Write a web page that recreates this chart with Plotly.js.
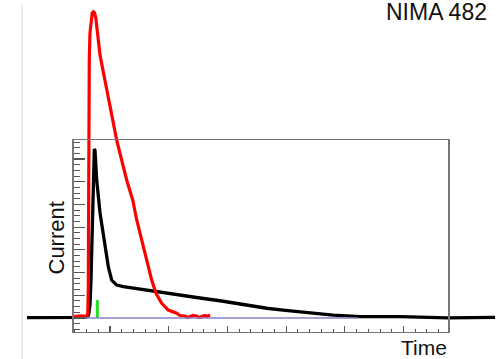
<!DOCTYPE html>
<html><head><meta charset="utf-8">
<script src="https://cdn.plot.ly/plotly-3.0.1.min.js"></script>
<style>html,body{margin:0;padding:0;background:#fff}#chart{width:498px;height:359px}</style>
</head><body><div id="chart"></div>
<script>
// Black current trace
const blackTime = [-14.14,-10.22,-6.13,-4.09,-3.66,-3.41,-3.24,-3.07,-2.90,-2.76,-2.67,-2.56,-2.39,-2.27,-1.70,-0.85,-0.29,0.29,1.14,2.27,4.26,7.38,9.37,13.07,15.62,18.74,20.95,23.85,26.70,29.47,32.37,35.21,37.99,42.59,49.40,57.58,65.59];
const blackCurrent = [0.02,0.01,0.03,0.03,0.13,0.57,1.67,3.88,6.08,7.18,7.44,7.40,6.74,6.08,4.63,3.14,2.26,1.67,1.45,1.38,1.30,1.20,1.13,0.96,0.87,0.76,0.66,0.53,0.43,0.35,0.28,0.21,0.13,0.06,0.06,0.01,0.03];
// Red current trace
const redTime = [-6.13,-5.11,-3.97,-3.78,-3.70,-3.65,-3.53,-3.41,-3.24,-3.03,-2.84,-2.64,-2.42,-2.21,-1.96,-1.70,-1.14,-0.56,1.14,2.84,3.87,4.55,5.40,6.25,7.10,7.84,8.81,9.93,11.36,11.93,12.78,13.29,13.63,14.14,14.77,15.16,15.62,16.18,16.52,17.04];
const redCurrent = [0.06,0.09,0.07,0.22,1.23,5.20,11.37,12.56,13.13,13.44,13.49,13.44,13.22,12.78,12.16,11.59,10.84,10.04,7.84,6.08,5.20,4.32,3.44,2.56,1.67,1.09,0.65,0.35,0.21,0.11,0.09,0.02,0.06,0.11,0.09,0.02,0.06,0.11,0.07,0.13];
// Green marker
const greenTime = [-2.16,-2.16];
const greenCurrent = [0,0.79];
// Blue baseline
const blueTime = [-6.22,42.25];
const blueCurrent = [0,0];

const W = 498, H = 359;
const frame = {l:73.5, r:448.3, t:140, b:331.5};

const traces = [
  {x: blackTime, y: blackCurrent, xaxis:'x', yaxis:'y', mode:'lines', line:{color:'#000000', width:3.3}, hoverinfo:'skip'},
  {x: greenTime, y: greenCurrent, xaxis:'x', yaxis:'y', mode:'lines', line:{color:'#22dd22', width:3}, hoverinfo:'skip'},
  {x: redTime, y: redCurrent, xaxis:'x', yaxis:'y', mode:'lines', line:{color:'#ff0000', width:3.2}, hoverinfo:'skip'},
  {x: blueTime, y: blueCurrent, xaxis:'x2', yaxis:'y2', mode:'lines', line:{color:'#8484c4', width:1.6}, hoverinfo:'skip'}
];

const layout = {
  width: W, height: H,
  margin: {l:0, r:0, t:0, b:0},
  paper_bgcolor: '#ffffff',
  plot_bgcolor: 'rgba(0,0,0,0)',
  showlegend: false,
  xaxis: {domain:[0,1], range:[-18.74, 66.10], visible:false, fixedrange:true},
  yaxis: {domain:[0,1], range:[-1.806, 14.009], visible:false, fixedrange:true},
  xaxis2: {
    domain:[frame.l/W, frame.r/W], anchor:'y2', range:[-6.22, 57.63],
    showgrid:false, zeroline:false, showticklabels:false,
    showline:true, mirror:true, linecolor:'#777777', linewidth:1.5,
    ticks:'inside', tick0:0, dtick:10, ticklen:6, tickwidth:1.2, tickcolor:'#555555',
    minor:{ticks:'inside', dtick:2, ticklen:3, tickwidth:1, tickcolor:'#555555', showgrid:false},
    fixedrange:true
  },
  yaxis2: {
    domain:[1-frame.b/H, 1-frame.t/H], anchor:'x2', range:[-0.595, 7.84],
    showgrid:false, zeroline:false, showticklabels:false,
    showline:true, mirror:true, linecolor:'#777777', linewidth:1.5,
    ticks:'inside', tick0:0, dtick:1, ticklen:11, tickwidth:1.2, tickcolor:'#555555',
    minor:{ticks:'inside', dtick:0.25, ticklen:6, tickwidth:1, tickcolor:'#555555', showgrid:false},
    fixedrange:true
  },
  shapes: [
    {type:'line', xref:'paper', yref:'paper', x0:22/W, x1:22/W, y0:0, y1:1-5/H, line:{color:'#ececec', width:2}, layer:'below'}
  ],
  annotations: [
    {text:'Current', xref:'paper', yref:'paper', x:56/W, y:1-238.5/H, xanchor:'center', yanchor:'middle', showarrow:false, textangle:-90,
     font:{family:'Liberation Sans, Arial, sans-serif', size:22, color:'#111111'}},
    {text:'Time', xref:'paper', yref:'paper', x:424/W, y:1-347/H, xanchor:'center', yanchor:'middle', showarrow:false,
     font:{family:'Liberation Sans, Arial, sans-serif', size:21, color:'#111111'}},
    {text:'NIMA 482', xref:'paper', yref:'paper', x:384/W, y:1-12/H, xanchor:'left', yanchor:'middle', showarrow:false,
     font:{family:'Liberation Sans, Arial, sans-serif', size:23, color:'#111111'}}
  ]
};

Plotly.newPlot('chart', traces, layout, {staticPlot:true, displayModeBar:false});
</script>
</body></html>
